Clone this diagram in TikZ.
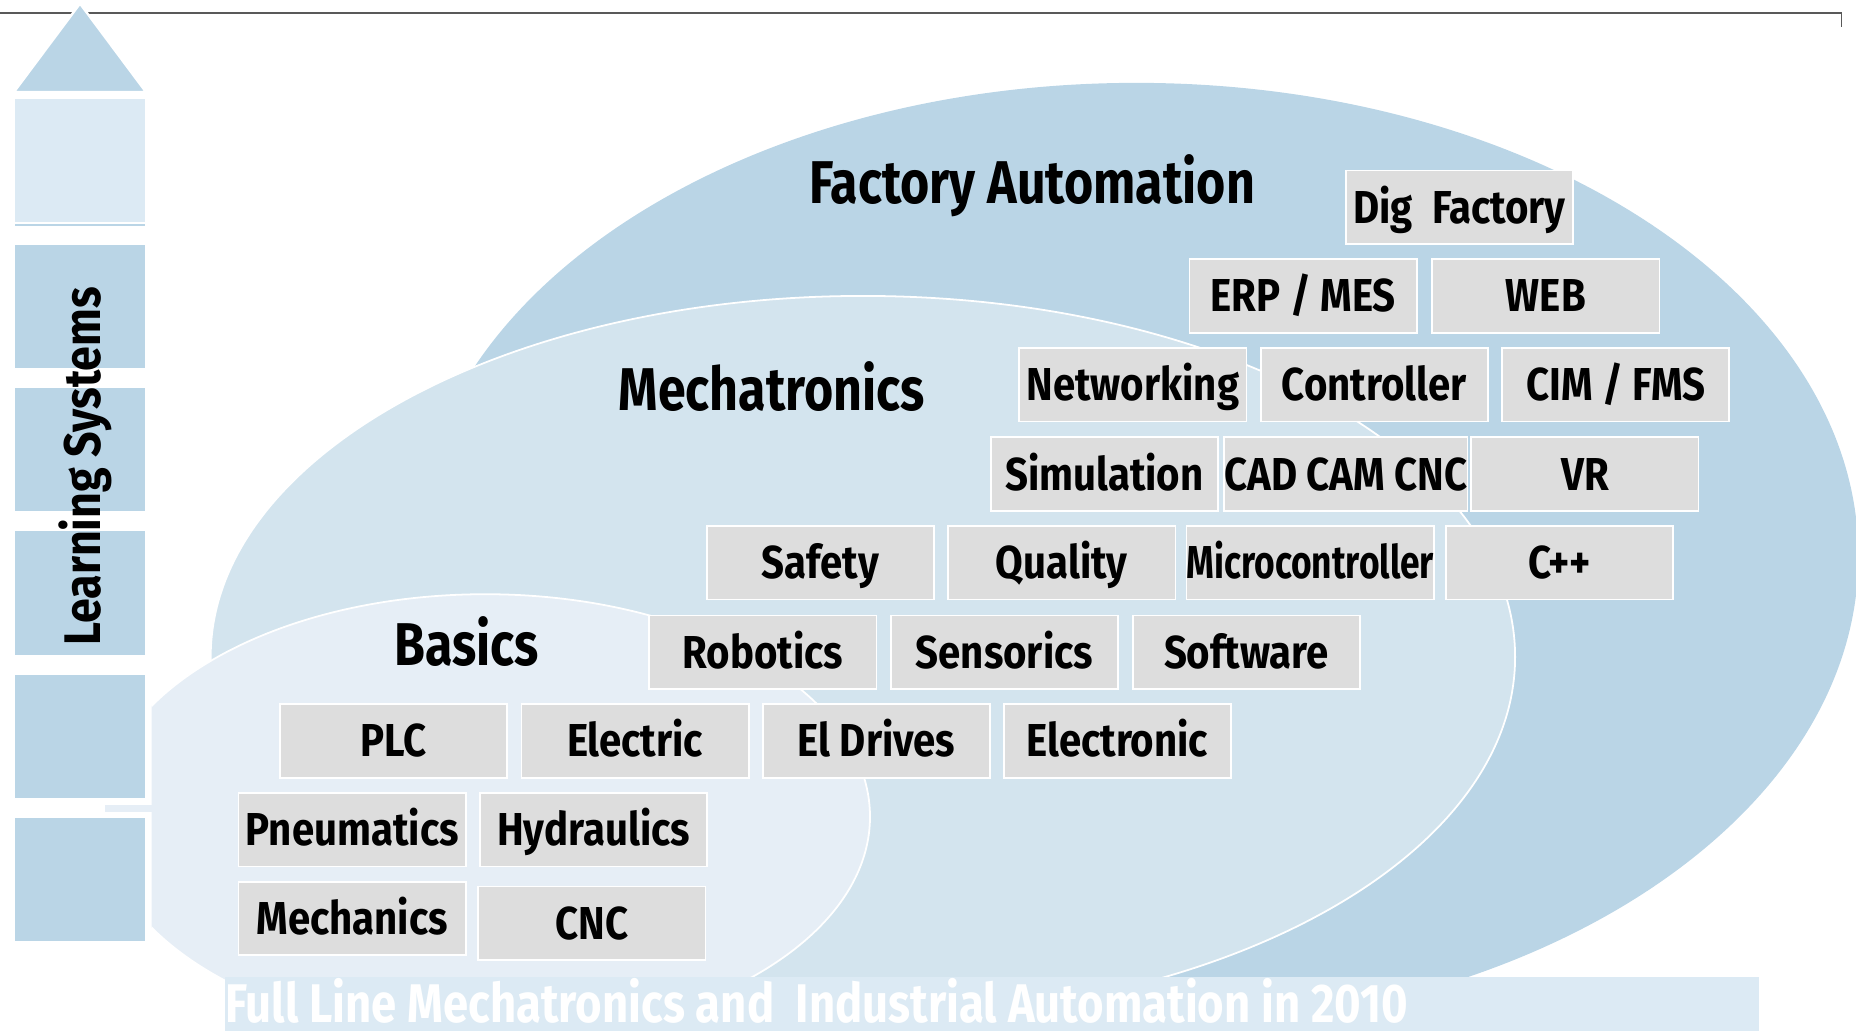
\documentclass[tikz,border=0pt]{standalone}
\usepackage{fontspec}
\usepackage{graphicx}
\newfontfamily\labelfont{Fira Sans}[FakeStretch=0.87]
\newfontfamily\titlefont{Fira Sans}[FakeStretch=0.83]
\newfontfamily\barfont{Fira Sans}[FakeStretch=0.835]
\definecolor{faBlue}{HTML}{BAD5E6}
\definecolor{mtBlue}{HTML}{D3E4EE}
\definecolor{baBlue}{HTML}{E6EEF6}
\definecolor{paleBlue}{HTML}{DCEAF4}
\definecolor{boxGray}{HTML}{DDDDDD}
\tikzset{
  topic/.style={draw=white, line width=1.5pt, fill=boxGray, inner sep=0pt,
    minimum width=192pt, minimum height=62pt, text height=27pt, text depth=0pt,
    font={\labelfont\bfseries\fontsize{39}{44}\selectfont}},
  area/.style={anchor=base, inner sep=0pt,
    font={\titlefont\bfseries\fontsize{51}{58}\selectfont}},
  stackbox/.style={fill=faBlue}
}

\begin{document}
\begin{tikzpicture}[x=1pt, y=-1pt]
  \useasboundingbox (0,0) rectangle (1568,871);
  \draw[line width=1pt, black!65] (0,11) -- (1556,11) -- (1556,23);

  % learning systems column
  \filldraw[fill=faBlue, draw=white, line width=2pt]
          (67.6,3) -- (123.3,77.7) -- (11.8,77.7) -- cycle;
  \fill[paleBlue] (12.7,83.6) rectangle (122.5,187.5);
  \fill[stackbox] (12.7,189.5) rectangle (122.5,191);
  \foreach \t in {207,328,449,570,691}
    \fill[stackbox] (12.7,\t) rectangle (122.5,\t+104);
  \node[rotate=90, anchor=base, inner sep=0pt,
        font={\labelfont\bfseries\fontsize{43.5}{50}\selectfont}] (learn) at (85,394) {Learning Systems};

  % nested areas
  \fill[faBlue] (960,470) ellipse [x radius=610, y radius=400];
  \filldraw[fill=mtBlue, draw=white, line width=1.5pt] (729,555) ellipse [x radius=551, y radius=305];
  \begin{scope}
    \clip (128,0) rectangle (1568,871);
    \filldraw[fill=baBlue, draw=white, line width=1.5pt] (410,690) ellipse [x radius=325, y radius=188];
  \end{scope}
  \fill[baBlue] (89,680) rectangle (128,686);

  \node[area] (fa) at (872,172) {Factory Automation};
  \node[area] (mt) at (652,347) {Mechatronics};
  \node[area] (ba) at (394,562) {Basics};

  \node[topic] (dig) at (1233,175) {Dig\ \ Factory};
  \node[topic] (erp) at (1101,250) {ERP / MES};
  \node[topic] (web) at (1306,250) {WEB};
  \node[topic] (net) at (957,325) {Networking};
  \node[topic] (ctrl) at (1161,325) {Controller};
  \node[topic] (cim) at (1365,325) {CIM / FMS};
  \node[topic] (sim) at (933,400.5) {Simulation};
  \node[topic] (cad) at (1137,400.5) {CAD CAM CNC};
  \node[topic] (vr) at (1339,400.5) {VR};
  \node[topic] (safe) at (693,475.5) {Safety};
  \node[topic] (qual) at (897,475.5) {Quality};
  \node[topic, minimum width=204pt] (micro) at (1107,475.5) {\scalebox{0.88}[1]{Microcontroller}};
  \node[topic] (cpp) at (1317.5,475.5) {C++};
  \node[topic] (robo) at (644.5,551) {Robotics};
  \node[topic] (sens) at (848.5,551) {Sensorics};
  \node[topic] (soft) at (1053,551) {Software};
  \node[topic] (plc) at (332.5,626) {PLC};
  \node[topic] (elec) at (536.5,626) {Electric};
  \node[topic] (drive) at (740.5,626) {El Drives};
  \node[topic] (tronic) at (944,626) {Electronic};
  \node[topic] (pneu) at (297.5,701) {Pneumatics};
  \node[topic] (hydr) at (501.5,701) {Hydraulics};
  \node[topic] (mech) at (297.5,776) {Mechanics};
  \node[topic] (cnc) at (500,780) {CNC};

  % caption bar
  \fill[paleBlue] (190,825) rectangle (1486,871);
  \node[anchor=base west, inner sep=0pt, text=white,
        font={\barfont\bfseries\fontsize{46}{50}\selectfont}] (caption) at (190,864)
        {Full Line Mechatronics and\ \ Industrial Automation in 2010};
\end{tikzpicture}
\end{document}
